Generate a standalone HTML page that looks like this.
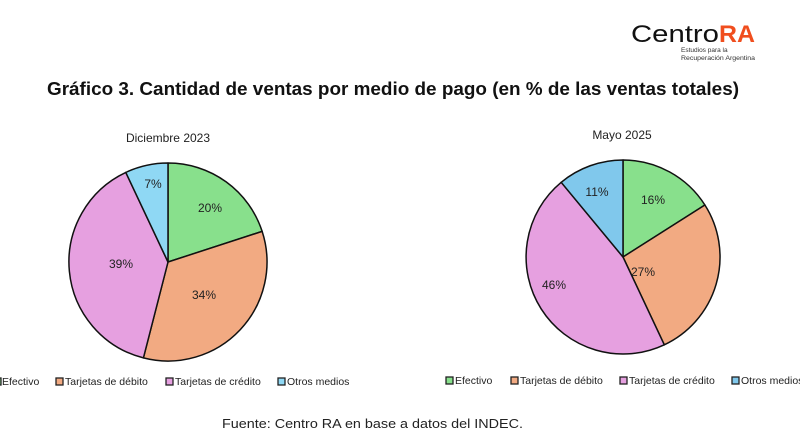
<!DOCTYPE html>
<html><head><meta charset="utf-8"><style>
html,body{margin:0;padding:0;background:#fff;}
svg{display:block;}
text{font-family:"Liberation Sans",sans-serif;}
</style></head><body>
<svg width="800" height="445" viewBox="0 0 800 445" xmlns="http://www.w3.org/2000/svg">
<rect width="800" height="445" fill="#fff"/>
<!-- logo -->
<text x="631" y="42" font-size="24" fill="#111" textLength="88" lengthAdjust="spacingAndGlyphs">Centro</text>
<text x="719" y="42" font-size="24" font-weight="bold" fill="#f04e1e" textLength="36" lengthAdjust="spacingAndGlyphs">RA</text>
<text x="681" y="52" font-size="6.5" fill="#333">Estudios para la</text>
<text x="681" y="60" font-size="6.5" fill="#333" textLength="74" lengthAdjust="spacingAndGlyphs">Recuperación Argentina</text>
<!-- title -->
<text x="47" y="95" font-size="18" font-weight="bold" fill="#111" textLength="692" lengthAdjust="spacingAndGlyphs">Gráfico 3. Cantidad de ventas por medio de pago (en % de las ventas totales)</text>
<text x="168" y="142" font-size="12" fill="#222" text-anchor="middle">Diciembre 2023</text>
<text x="622" y="139" font-size="12" fill="#222" text-anchor="middle">Mayo 2025</text>
<!-- left pie -->
<g stroke="#111" stroke-width="1.5" stroke-linejoin="round">
<path d="M168,262 L168,163 A99,99 0 0 1 262.15,231.4 Z" fill="#88e08c"/>
<path d="M168,262 L262.15,231.4 A99,99 0 0 1 143.4,357.9 Z" fill="#f2aa82"/>
<path d="M168,262 L143.4,357.9 A99,99 0 0 1 125.8,172.4 Z" fill="#e6a0e0"/>
<path d="M168,262 L125.8,172.4 A99,99 0 0 1 168,163 Z" fill="#8fd8f4"/>
</g>
<g font-size="12" fill="#222" text-anchor="middle">
<text x="210" y="212">20%</text><text x="204" y="299">34%</text>
<text x="121" y="268">39%</text><text x="153" y="188">7%</text>
</g>
<!-- right pie -->
<g stroke="#111" stroke-width="1.5" stroke-linejoin="round">
<path d="M623,257 L623,160 A97,97 0 0 1 704.9,205 Z" fill="#88e08c"/>
<path d="M623,257 L704.9,205 A97,97 0 0 1 664.3,344.8 Z" fill="#f2aa82"/>
<path d="M623,257 L664.3,344.8 A97,97 0 0 1 561.2,182.3 Z" fill="#e6a0e0"/>
<path d="M623,257 L561.2,182.3 A97,97 0 0 1 623,160 Z" fill="#80c8ec"/>
</g>
<g font-size="12" fill="#222" text-anchor="middle">
<text x="653" y="204">16%</text><text x="643" y="276">27%</text>
<text x="554" y="289">46%</text><text x="597" y="196">11%</text>
</g>
<!-- left legend -->
<g font-size="10.5" fill="#222" stroke-width="1.3">
<rect x="-6" y="378" width="7" height="7" fill="#88e08c" stroke="#222"/>
<text x="2" y="385">Efectivo</text>
<rect x="56" y="378" width="7" height="7" fill="#f2aa82" stroke="#222"/>
<text x="65" y="385">Tarjetas de débito</text>
<rect x="166" y="378" width="7" height="7" fill="#e6a0e0" stroke="#222"/>
<text x="175" y="385">Tarjetas de crédito</text>
<rect x="278" y="378" width="7" height="7" fill="#8fd8f4" stroke="#222"/>
<text x="287" y="385">Otros medios</text>
</g>
<!-- right legend -->
<g font-size="10.5" fill="#222" stroke-width="1.3">
<rect x="446" y="377" width="7" height="7" fill="#88e08c" stroke="#222"/>
<text x="455" y="384">Efectivo</text>
<rect x="511" y="377" width="7" height="7" fill="#f2aa82" stroke="#222"/>
<text x="520" y="384">Tarjetas de débito</text>
<rect x="620" y="377" width="7" height="7" fill="#e6a0e0" stroke="#222"/>
<text x="629" y="384">Tarjetas de crédito</text>
<rect x="732" y="377" width="7" height="7" fill="#80c8ec" stroke="#222"/>
<text x="741" y="384">Otros medios</text>
</g>
<text x="222" y="428" font-size="13" fill="#222" textLength="301" lengthAdjust="spacingAndGlyphs">Fuente: Centro RA en base a datos del INDEC.</text>
</svg>
</body></html>
